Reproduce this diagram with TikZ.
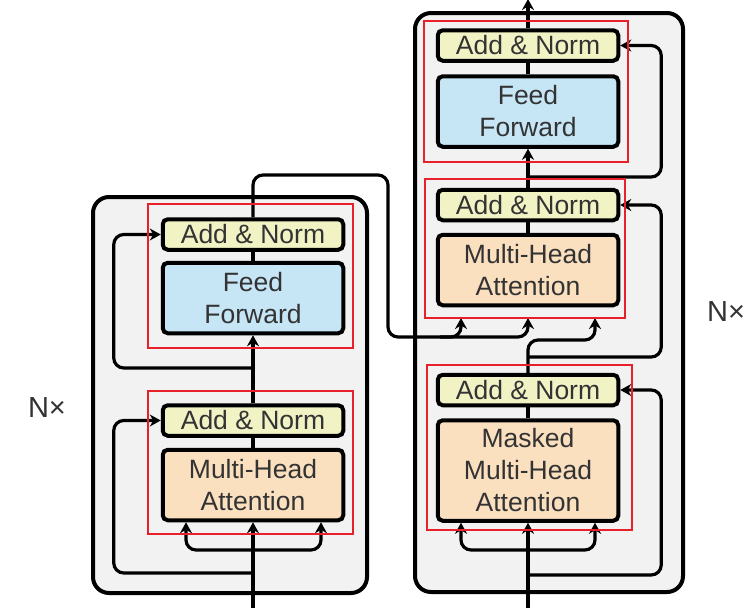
\documentclass[tikz,border=0pt]{standalone}
\usepackage{fontspec}
\setmainfont{Liberation Sans}
\usetikzlibrary{arrows.meta}
\definecolor{bggray}{HTML}{F2F2F2}
\definecolor{anfill}{HTML}{F1F3C5}
\definecolor{fffill}{HTML}{C6E5F5}
\definecolor{mhfill}{HTML}{FBE0C0}
\definecolor{txt}{HTML}{333333}
\definecolor{redbox}{HTML}{E8202A}
\tikzset{
  outerbox/.style={draw=black, fill=bggray, line width=4pt, rounded corners=16pt},
  blockbase/.style={draw=black, line width=4pt, rounded corners=5pt, minimum width=180.5pt,
    inner sep=0pt, align=center, text=txt, font=\fontsize{26.5}{32}\selectfont},
  anbox/.style={blockbase, fill=anfill, minimum height=30.5pt},
  ffbox/.style={blockbase, fill=fffill, minimum height=70.5pt},
  mhbox/.style={blockbase, fill=mhfill, minimum height=70.5pt},
  mmbox/.style={blockbase, fill=mhfill, minimum height=100.5pt},
  ln/.style={draw=black, line width=3.2pt, rounded corners=10pt},
  arr/.style={ln, -{Stealth[length=11pt,width=12pt]}},
  redrect/.style={draw=redbox, line width=1.6pt},
  nlabel/.style={text=txt, font=\fontsize{29}{32}\selectfont, inner sep=0pt}
}
\begin{document}
\begin{tikzpicture}[x=1pt,y=-1pt]
\useasboundingbox (0,0) rectangle (751,608);
% outer stacks
\draw[outerbox] (93,197) rectangle (367,593);
\draw[outerbox] (415,13) rectangle (683,592);

% encoder blocks
\node[anbox] (ean2) at (253,234.5) {Add \& Norm};
\node[ffbox] (eff) at (253,298) {Feed\\Forward};
\node[anbox] (ean1) at (253,420.5) {Add \& Norm};
\node[mhbox] (emha) at (253,485) {Multi-Head\\Attention};

% decoder blocks
\node[anbox] (dan3) at (528,45.5) {Add \& Norm};
\node[ffbox] (dff) at (528,111.5) {Feed\\Forward};
\node[anbox] (dan2) at (528,205) {Add \& Norm};
\node[mhbox] (dmha) at (528,270) {Multi-Head\\Attention};
\node[anbox] (dan1) at (528,390) {Add \& Norm};
\node[mmbox] (dmm) at (528,470.5) {Masked\\Multi-Head\\Attention};

% labels
\node[nlabel] (nenc) at (47,408) {N×};
\node[nlabel] (ndec) at (726,312) {N×};

% ---- encoder connectors
\coordinate (ein) at (253,608);
\coordinate (ej1) at (253,550);
\coordinate (er1) at (253,573);
\coordinate (er2) at (253,368);
\draw[arr] (ein) -- (emha);
\draw[arr] (ej1) -| ([xshift=-67pt]emha.south);
\draw[arr] (ej1) -| ([xshift=68pt]emha.south);
\draw[arr] (er1) -| ([xshift=-47pt]ean1.west) -- (ean1.west);
\draw[ln] (emha) -- (ean1);
\draw[arr] (ean1) -- (eff);
\draw[arr] (er2) -| ([xshift=-47pt]ean2.west) -- (ean2.west);
\draw[ln] (eff) -- (ean2);

% encoder output to decoder
\coordinate (ea) at (253,175);
\coordinate (eb) at (388,175);
\coordinate (ec) at (388,337);
\coordinate (ed) at (440,337);
\coordinate (din1) at (461,318);
\coordinate (din2) at (528,318);
\coordinate (din3) at (595,318);
\draw[arr] (ean2.north) -- (ea) -- (eb) -- (ec) -| (din1);
\draw[arr] (ed) -| (din2);

% ---- decoder connectors
\coordinate (din) at (528,608);
\coordinate (dj1) at (528,550);
\coordinate (dr1) at (528,575);
\coordinate (dk) at (595,340);
\coordinate (dr2) at (528,357);
\coordinate (dr3) at (528,177);
\coordinate (dout) at (528,-1);
\draw[arr] (din) -- (dmm);
\draw[arr] (dj1) -| ([xshift=-67pt]dmm.south);
\draw[arr] (dj1) -| ([xshift=67pt]dmm.south);
\draw[arr] (dr1) -| ([xshift=41pt]dan1.east) -- (dan1.east);
\draw[ln] (dmm) -- (dan1);
\draw[arr] (dan1.north) |- (dk) -- (din3);
\draw[arr] (dr2) -| ([xshift=41pt]dan2.east) -- (dan2.east);
\draw[ln] (dmha) -- (dan2);
\draw[arr] (dan2) -- (dff);
\draw[arr] (dr3) -| ([xshift=41pt]dan3.east) -- (dan3.east);
\draw[ln] (dff) -- (dan3);
\draw[arr] (dan3) -- (dout);

% red highlight rectangles
\draw[redrect] (148,204) rectangle (353,348);
\draw[redrect] (148,391) rectangle (353,534);
\draw[redrect] (424,21) rectangle (628,162);
\draw[redrect] (425,179) rectangle (625,318);
\draw[redrect] (427,365) rectangle (632,530);
\end{tikzpicture}
\end{document}
